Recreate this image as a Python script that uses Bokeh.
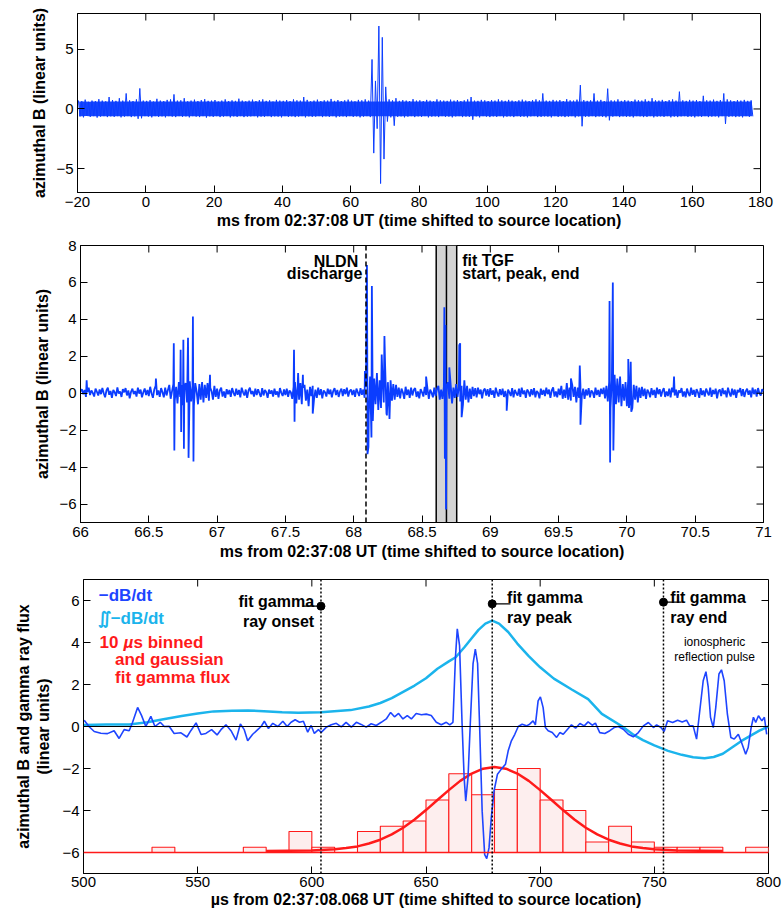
from bokeh.plotting import figure
from bokeh.models import Range1d, FixedTicker, Span, BoxAnnotation
from bokeh.layouts import column
from bokeh.embed import file_html
from bokeh.resources import INLINE
from bokeh.core.properties import value

# ---------------- DATA ----------------
# Panel 1: per-1-ms envelope (max, min) of azimuthal B, bins starting at -20 ms
p1_bin_start = -20
p1_hi = [
    0.72, 0.65, 0.78, 0.60, 0.70, 0.66, 0.82, 0.70, 0.64, 1.00,
    0.75, 0.68, 0.90, 0.70, 1.30, 0.72, 0.66, 0.80, 1.72, 0.70,
    0.68, 0.74, 0.62, 0.85, 0.70, 0.66, 0.76, 0.80, 1.22, 0.70,
    0.72, 0.90, 0.64, 0.70, 0.78, 0.66, 0.74, 0.82, 0.68, 0.70,
    0.75, 0.62, 0.70, 0.80, 0.66, 0.72, 0.68, 0.86, 0.70, 0.64,
    0.70, 0.78, 0.66, 0.74, 0.80, 0.68, 0.72, 0.62, 0.76, 0.70,
    0.68, 0.74, 0.66, 0.80, 0.72, 0.70, 1.00, 0.76, 0.64, 0.70,
    0.78, 0.66, 0.72, 0.70, 0.84, 0.68, 0.74, 0.66, 0.72, 0.78,
    0.70, 0.64, 0.76, 0.72, 0.80, 0.70, 4.15, 2.35, 6.95, 6.00,
    1.85, 0.80, 0.72, 0.90, 0.68, 0.74, 0.70, 0.66, 0.82, 0.70,
    0.72, 0.66, 0.76, 0.70, 0.64, 0.80, 0.72, 0.70, 0.68, 0.78,
    0.70, 0.74, 0.66, 0.72, 0.80, 1.00, 0.70, 0.68, 0.76, 0.72,
    0.66, 0.74, 0.70, 0.80, 0.72, 0.68, 0.76, 0.70, 0.64, 0.72,
    0.78, 0.70, 0.66, 0.74, 0.80, 0.72, 1.30, 0.70, 0.68, 0.76,
    0.70, 0.74, 0.66, 0.82, 0.72, 0.70, 0.78, 2.00, 0.74, 0.68,
    0.72, 1.30, 0.70, 0.76, 0.66, 1.70, 0.72, 0.70, 0.80, 0.68,
    0.74, 0.70, 0.66, 0.78, 0.72, 0.70, 0.80, 0.68, 0.90, 0.72,
    0.70, 0.76, 0.66, 0.74, 0.80, 0.70, 1.45, 0.72, 0.68, 0.76,
    0.70, 0.74, 0.66, 1.10, 0.72, 0.70, 0.78, 0.68, 0.74, 1.30,
    0.80, 0.72, 0.66, 0.74, 0.70, 0.76, 0.68, 0.72,
]
p1_lo = [
    -0.62, -0.70, -0.58, -0.66, -0.60, -0.72, -0.64, -0.60, -0.68, -0.62,
    -0.66, -0.60, -0.70, -0.64, -0.60, -0.68, -0.62, -0.82, -0.78, -0.60,
    -0.64, -0.70, -0.60, -0.66, -0.62, -0.70, -0.60, -0.64, -0.68, -0.60,
    -0.66, -0.62, -0.70, -0.60, -0.64, -0.68, -0.60, -0.72, -0.62, -0.66,
    -0.60, -0.68, -0.64, -0.60, -0.70, -0.62, -0.66, -0.60, -0.68, -0.64,
    -0.62, -0.60, -0.70, -0.64, -0.66, -0.60, -0.68, -0.62, -0.64, -0.70,
    -0.60, -0.66, -0.62, -0.68, -0.64, -0.60, -0.70, -0.62, -0.66, -0.64,
    -0.60, -0.68, -0.62, -0.66, -0.60, -0.70, -0.64, -0.62, -0.68, -0.60,
    -0.66, -0.62, -0.70, -0.64, -0.60, -0.68, -3.70, -1.65, -6.25, -4.20,
    -1.05, -0.70, -1.40, -0.66, -0.62, -0.70, -0.64, -0.60, -0.68, -0.62,
    -0.66, -0.60, -0.70, -0.64, -0.62, -0.68, -0.60, -0.66, -0.64, -0.70,
    -0.62, -0.60, -0.68, -0.64, -0.66, -0.90, -0.62, -0.70, -0.60, -0.64,
    -0.68, -0.62, -0.66, -0.60, -0.70, -0.64, -0.62, -0.68, -0.60, -0.66,
    -0.64, -0.70, -0.62, -0.60, -0.68, -0.66, -0.62, -0.64, -0.70, -0.60,
    -0.66, -0.62, -0.68, -0.64, -0.60, -0.70, -0.62, -1.45, -0.66, -0.64,
    -0.60, -0.68, -0.62, -0.66, -0.70, -0.95, -0.64, -0.60, -0.68, -0.62,
    -0.66, -0.64, -0.70, -0.60, -0.62, -0.68, -0.66, -0.60, -0.70, -0.64,
    -0.62, -0.66, -0.60, -0.70, -0.64, -0.68, -0.62, -0.60, -0.66, -0.64,
    -0.70, -0.62, -0.66, -0.60, -0.68, -0.64, -0.62, -0.70, -0.60, -1.25,
    -0.66, -0.62, -0.68, -0.64, -0.70, -0.60, -0.66, -0.62,
]
p1_band_cap = 0.62
p1_xticks = [-20, 0, 20, 40, 60, 80, 100, 120, 140, 160, 180]
p1_xlabels = ["\u221220", "0", "20", "40", "60", "80", "100", "120", "140", "160", "180"]
p1_yticks = [-5, 0, 5]
p1_ylabels = ["\u22125", "0", "5"]

# Panel 2: baseline samples every 0.01 ms from 66.00 ms, plus discrete pulses
p2_t0 = 66.0
p2_dt = 0.01
p2_noise = [
    0.10, 0.22, -0.05, 0.18, -0.20, 0.05, 0.30, -0.10, 0.15, 0.02,
    -0.18, 0.25, 0.08, -0.12, 0.20, -0.05, 0.28, 0.00, -0.22, 0.15,
    0.30, -0.08, 0.12, -0.25, 0.18, 0.05, -0.15, 0.32, -0.02, 0.10,
    -0.20, 0.22, 0.05, 0.28, -0.12, 0.15, -0.28, 0.08, 0.25, -0.05,
    0.12, -0.18, 0.30, -0.02, 0.20, -0.22, 0.05, 0.26, -0.10, 0.18,
    -0.15, 0.35, 0.00, -0.25, 0.20, 0.40, -0.10, 0.15, -0.20, 0.28,
    0.05, -0.22, 0.30, -0.12, 0.18, 0.45, -0.30, 0.10, 0.50, -0.40,
    0.35, -0.55, 0.60, -0.20, 0.45, -0.65, 0.30, 0.55, -0.50, 0.20,
    0.65, -0.45, 0.40, -0.70, 0.55, 0.10, -0.60, 0.50, -0.35, 0.60,
    -0.50, 0.45, -0.25, 0.55, -0.40, 0.30, 0.10, -0.35, 0.40, -0.20,
    0.25, -0.30, 0.15, 0.30, -0.18, 0.10, -0.25, 0.22, -0.05, 0.18,
    -0.20, 0.28, 0.02, -0.15, 0.25, -0.08, 0.18, -0.22, 0.30, 0.05,
    -0.12, 0.20, -0.25, 0.15, 0.30, -0.05, 0.12, -0.18, 0.25, -0.10,
    0.22, 0.00, -0.20, 0.28, -0.12, 0.18, 0.05, -0.25, 0.20, -0.02,
    0.15, -0.18, 0.25, -0.08, 0.10, -0.22, 0.28, 0.02, -0.15, 0.20,
    -0.10, 0.25, -0.20, 0.15, 0.05, -0.30, 0.35, 0.60, -0.55, 0.40,
    -0.35, 0.55, -0.60, 0.30, 0.45, -0.40, 0.20, -0.70, 0.35, -0.15,
    0.40, -0.30, 0.20, -0.25, 0.30, -0.10, 0.22, -0.28, 0.15, 0.05,
    -0.18, 0.25, -0.05, 0.20, -0.22, 0.12, 0.28, -0.10, 0.18, -0.20,
    0.10, 0.25, -0.15, 0.22, -0.05, 0.30, -0.18, 0.12, 0.20, -0.10,
    0.18, -0.20, 0.25, 0.05, -0.15, 0.28, -0.08, 0.20, -0.25, 0.35,
    0.60, -1.20, 0.90, -2.40, -1.50, 0.80, -0.60, 1.10, -0.90, 0.70,
    -0.80, 1.00, -0.50, 1.50, -1.10, 0.60, -0.90, 0.70, -0.40, 0.50,
    -0.35, 0.45, -0.20, 0.30, -0.28, 0.25, 0.05, -0.30, 0.35, -0.10,
    0.20, -0.25, 0.30, -0.12, 0.18, 0.28, -0.20, 0.10, -0.28, 0.22,
    0.05, -0.18, 0.35, -0.10, 0.25, -0.30, 0.20, 0.02, -0.22, 0.30,
    -0.15, 0.25, 0.40, -0.35, 0.20, -0.30, 0.35, -0.40, 0.25, 0.60,
    -0.30, 0.45, -0.55, 0.30, -0.25, 0.50, -0.20, 0.35, -0.45, 0.40,
    -0.60, 0.70, -0.35, 0.40, -0.50, 0.25, -0.30, 0.35, -0.15, 0.28,
    -0.22, 0.30, -0.05, 0.20, -0.28, 0.15, 0.25, -0.12, 0.22, -0.18,
    0.28, -0.08, 0.15, -0.25, 0.30, 0.02, -0.18, 0.22, -0.10, 0.25,
    -0.20, 0.12, -0.30, 0.20, 0.05, -0.15, 0.28, -0.22, 0.18, 0.00,
    -0.12, 0.25, -0.20, 0.30, -0.05, 0.15, -0.25, 0.20, 0.08, -0.18,
    0.22, -0.10, 0.28, -0.22, 0.12, 0.02, -0.28, 0.25, -0.08, 0.18,
    -0.15, 0.30, -0.05, 0.20, -0.25, 0.15, 0.32, -0.18, 0.10, -0.22,
    0.25, -0.10, 0.40, -0.30, 0.20, -0.25, 0.55, -0.35, 0.30, -0.40,
    0.45, -0.20, 0.35, -0.50, 0.30, -0.25, 0.40, -0.15, 0.25, -0.30,
    0.20, -0.12, 0.28, -0.22, 0.15, 0.05, -0.25, 0.30, -0.10, 0.18,
    -0.20, 0.25, -0.05, 0.30, -0.28, 0.40, -0.45, 0.60, -0.80, 0.70,
    -0.90, 1.00, -0.60, 0.80, -0.50, 0.90, -0.70, 0.50, -0.40, 0.60,
    -0.70, 0.80, -0.50, 0.60, -0.80, 0.45, -0.35, 0.40, -0.50, 0.30,
    -0.25, 0.35, -0.15, 0.25, -0.30, 0.20, 0.05, -0.22, 0.28, -0.10,
    0.18, -0.25, 0.30, -0.05, 0.22, -0.18, 0.12, 0.28, -0.20, 0.10,
    -0.15, 0.25, -0.22, 0.30, 0.05, -0.12, 0.20, -0.25, 0.15, 0.02,
    0.28, -0.18, 0.10, -0.22, 0.25, 0.00, -0.15, 0.30, -0.08, 0.18,
    -0.20, 0.22, 0.05, -0.25, 0.28, -0.10, 0.15, -0.18, 0.25, 0.05,
    -0.12, 0.30, -0.20, 0.18, -0.05, 0.25, -0.28, 0.12, 0.20, -0.15,
    0.28, -0.05, 0.15, -0.22, 0.30, 0.02, -0.18, 0.25, -0.10, 0.20,
    -0.25, 0.18, 0.05, 0.28, -0.15, 0.22, -0.20, 0.10, 0.25, -0.08,
    0.15, -0.22, 0.30, -0.05, 0.20, -0.18, 0.28, 0.00, -0.12, 0.22,
    0.10,
]
p2_pulses = [
    (66.045, 0.7), (66.552, 0.8),
    (66.683, 2.7), (66.687, -3.1), (66.733, 2.35), (66.737, -2.1),
    (66.753, 2.9), (66.757, -3.0), (66.787, 3.0), (66.791, -3.5),
    (66.823, 4.15), (66.827, -3.7), (66.948, 1.0),
    (67.563, 2.35), (67.567, -1.55), (67.593, 1.1), (67.628, 1.0), (67.700, -1.1),
    (68.082, 1.2), (68.097, 6.95), (68.101, -3.3), (68.108, -2.9),
    (68.133, 5.8),
    (68.205, 2.1), (68.225, 3.1), (68.243, -1.2), (68.262, -1.4), (68.53, 0.9),
    (68.6636, 4.65), (68.6674, -3.55), (68.6717, 3.7), (68.676, -6.3),
    (68.700, 1.4), (68.7726, 2.6), (68.7794, 2.7), (68.790, -1.3),
    (69.12, -0.95), (69.59, 0.8), (69.655, 1.5), (69.660, -1.7),
    (69.873, 5.0), (69.877, -3.75), (69.897, 6.0), (69.901, -3.1),
    (70.010, 1.85), (70.015, -0.8), (70.028, 1.7), (70.032, -1.0), (70.345, 0.9),
]
p2_xticks = [66, 66.5, 67, 67.5, 68, 68.5, 69, 69.5, 70, 70.5, 71]
p2_xlabels = ["66", "66.5", "67", "67.5", "68", "68.5", "69", "69.5", "70", "70.5", "71"]
p2_yticks = [-6, -4, -2, 0, 2, 4, 6, 8]
p2_ylabels = ["\u22126", "\u22124", "\u22122", "0", "2", "4", "6", "8"]
nldn_time = 68.09
tgf_start, tgf_peak, tgf_end = 68.604, 68.679, 68.754

# Panel 3: -dB/dt (us, value)
p3_dbdt = [
    (500.3, 0.3), (502.5, -0.01), (504.7, -0.24), (507.6, -0.32), (510.5, -0.34),
    (513.4, -0.2), (515.6, -0.57), (517.8, -0.15), (520.0, -0.2), (521.5, 0.2),
    (523.7, 0.91), (525.4, 0.53), (527.3, 0.0), (529.5, 0.48), (531.3, 0.0),
    (533.6, 0.2), (535.4, 0.0), (537.5, 0.01), (539.7, -0.33), (542.7, -0.3),
    (545.3, -0.5), (547.0, -0.2), (549.3, 0.17), (551.5, -0.38), (553.6, -0.33),
    (556.1, -0.15), (558.5, -0.4), (560.2, -0.15), (562.4, 0.08), (564.6, -0.2),
    (566.8, -0.65), (568.7, 0.12), (570.4, -0.15), (571.9, -0.68), (574.1, -0.37),
    (576.3, -0.15), (577.8, 0.0), (579.2, 0.25), (581.0, -0.1), (582.9, 0.15),
    (585.1, 0.0), (587.3, 0.25), (589.2, 0.0), (590.9, 0.2), (592.7, 0.32),
    (594.6, 0.2), (596.3, 0.25), (598.2, -0.27), (599.7, 0.05), (601.1, -0.33),
    (602.9, -0.15), (604.1, -0.28), (606.3, -0.04), (608.5, 0.08), (610.7, 0.15),
    (612.9, -0.02), (615.0, 0.2), (617.3, -0.03), (619.5, 0.2), (621.6, 0.1),
    (623.8, -0.03), (626.0, 0.13), (628.2, 0.05), (630.4, 0.2), (632.6, 0.36),
    (634.5, 0.67), (636.2, 0.46), (638.0, 0.62), (639.9, 0.36), (641.8, 0.52),
    (643.6, 0.36), (645.7, 0.62), (648.0, 0.56), (650.1, 0.59), (652.3, 0.52),
    (654.5, 0.2), (656.7, 0.08), (658.9, 0.2), (660.4, 0.08), (661.8, 0.2),
    (662.9, 3.3), (663.7, 4.65), (664.7, 3.85), (665.8, 0.14), (666.7, -2.43),
    (667.4, -3.55), (668.4, -2.43), (669.4, 0.14), (670.6, 2.98), (671.6, 3.69),
    (672.6, 3.0), (673.5, -0.05), (674.6, -4.03), (675.7, -6.1), (676.6, -6.29),
    (677.6, -5.78), (678.6, -4.34), (679.8, -3.07), (681.3, -2.27), (683.0, -2.03),
    (684.8, -1.8), (686.0, -1.16), (687.4, -0.68), (688.9, -0.37), (690.4, 0.0),
    (692.1, 0.11), (694.0, 0.03), (695.4, 0.11), (696.9, 0.27), (697.9, 0.08),
    (699.1, 1.22), (700.1, 1.41), (701.3, 0.9), (702.3, -0.05), (703.5, -0.2),
    (705.3, -0.29), (707.2, -0.52), (708.6, -0.29), (710.1, -0.37), (712.0, -0.13),
    (713.7, 0.08), (715.5, -0.08), (717.4, 0.14), (719.3, 0.03), (721.0, 0.22),
    (722.8, 0.06), (724.2, 0.16), (726.1, -0.29), (728.3, -0.33), (730.5, -0.2),
    (732.4, -0.05), (734.2, 0.0), (736.4, -0.13), (738.6, -0.37), (740.8, -0.49),
    (743.0, -0.29), (745.2, 0.03), (747.4, 0.19), (749.6, -0.05), (751.0, 0.08),
    (752.9, -0.05), (754.3, -0.24), (755.8, 0.27), (758.0, 0.19), (760.2, 0.3),
    (762.2, 0.22), (764.1, 0.3), (765.5, 0.03), (767.0, 0.03), (768.5, -0.6),
    (769.9, 0.75), (771.4, 2.18), (772.6, 2.61), (773.6, 1.87), (774.6, 0.44),
    (775.8, -0.05), (776.9, 0.9), (778.3, 2.5), (779.4, 2.7), (780.6, 2.18),
    (782.0, 0.59), (783.5, -0.52), (785.0, -0.6), (786.8, -0.37), (788.2, -0.76),
    (790.0, -1.32), (791.1, -1.0), (792.4, -0.05), (793.4, 0.44), (794.4, 0.19),
    (795.6, 0.51), (797.1, 0.27), (798.2, 0.44), (799.2, -0.37),
]
# integrated -dB/dt (us, value)
p3_integral = [
    (500, 0.07), (510, 0.09), (520, 0.1), (528, 0.2), (535, 0.35), (543, 0.5),
    (550, 0.62), (557, 0.72), (565, 0.75), (572, 0.76), (579, 0.73), (587, 0.68),
    (594, 0.66), (604, 0.68), (617, 0.78), (625, 0.95), (630, 1.12), (635, 1.35),
    (640, 1.65), (645, 1.95), (650, 2.3), (655, 2.75), (660, 3.1), (663, 3.3),
    (667, 3.8), (670, 4.2), (673, 4.6), (676, 4.9), (679, 5.04), (682, 4.9),
    (686, 4.5), (690, 3.95), (695, 3.35), (700, 2.82), (706, 2.28), (714, 1.75),
    (721, 1.3), (727, 0.6), (736, 0.0), (741, -0.4), (745, -0.65), (750, -0.9),
    (756, -1.16), (762, -1.35), (767, -1.46), (772, -1.51), (776, -1.45),
    (780, -1.3), (784, -1.0), (788, -0.7), (792, -0.45), (796, -0.2), (800, 0.0),
]
# 10 us binned gamma-ray counts
p3_bin_left = [500, 510, 520, 530, 540, 550, 560, 570, 580, 590, 600, 610, 620, 630, 640,
               650, 660, 670, 680, 690, 700, 710, 720, 730, 740, 750, 760, 770, 780, 790]
p3_counts = [0, 0, 0, 1, 0, 0, 0, 1, 0, 4, 1, 0, 4, 5, 6,
             10, 15, 11, 12, 16, 10, 8, 2, 5, 2, 1, 1, 1, 0, 1]
hist_base = -6.0
count_scale = 0.25
bin_width = 10
# gaussian fit (us, value)
p3_fit = [
    (580, -5.93), (590, -5.92), (600, -5.91), (610, -5.85), (615, -5.79), (620, -5.71),
    (625, -5.57), (630, -5.39), (635, -5.14), (640, -4.82), (645, -4.43), (650, -3.98),
    (655, -3.50), (660, -3.03), (665, -2.59), (670, -2.24), (675, -2.01), (680, -1.93),
    (685, -2.01), (690, -2.24), (695, -2.59), (700, -3.03), (705, -3.50), (710, -3.98),
    (715, -4.43), (720, -4.82), (725, -5.14), (730, -5.39), (735, -5.57), (740, -5.71),
    (745, -5.79), (750, -5.85), (760, -5.91), (770, -5.92), (780, -5.93),
]
fit_times = [604, 679, 754]
fit_marker_y = [5.73, 5.84, 5.92]
fit_tick_len = [-8, 8, 8]
p3_xticks = [500, 550, 600, 650, 700, 750, 800]
p3_xlabels = ["500", "550", "600", "650", "700", "750", "800"]
p3_yticks = [-6, -4, -2, 0, 2, 4, 6]
p3_ylabels = ["\u22126", "\u22124", "\u22122", "0", "2", "4", "6"]

# ---------------- STYLE ----------------
FONT = "Liberation Sans"
BLUE = "#0b3dff"
CYAN = "#1bb4ec"
RED = "#ff1a1a"
FIG_W = 782
TICK_PX = 7


def make_fig(height, xr, yr, left, right, top, bottom):
    p = figure(width=FIG_W, height=height, x_range=Range1d(*xr), y_range=Range1d(*yr),
               output_backend="svg", toolbar_location=None, frame_align=False,
               min_border_left=left, min_border_right=right,
               min_border_top=top, min_border_bottom=bottom)
    p.xgrid.visible = False
    p.ygrid.visible = False
    p.outline_line_color = "black"
    p.outline_line_width = 1
    p.background_fill_color = "white"
    p.border_fill_color = "white"
    return p


def style_axes(p, xr, yr, fw, fh, xt, xl, yt, yl, xlabel, ylabel, ylabel_standoff=5,
               xlabel_standoff=2, xtick_standoff=4):
    for ax, ticks, labels in ((p.xaxis[0], xt, xl), (p.yaxis[0], yt, yl)):
        ax.ticker = FixedTicker(ticks=ticks)
        ax.major_label_overrides = {t: l for t, l in zip(ticks, labels)}
        ax.major_tick_in = TICK_PX
        ax.major_tick_out = 0
        ax.minor_tick_line_color = None
        ax.minor_tick_out = 0
        ax.axis_line_color = "black"
        ax.major_tick_line_color = "black"
        ax.major_label_text_font = FONT
        ax.major_label_text_font_size = "15px"
        ax.major_label_text_color = "black"
        ax.axis_label_text_font = FONT
        ax.axis_label_text_font_style = "bold"
        ax.axis_label_text_font_size = "16px"
        ax.axis_label_text_color = "black"
    p.xaxis[0].axis_label = xlabel
    p.xaxis[0].major_label_standoff = xtick_standoff
    p.xaxis[0].axis_label_standoff = xlabel_standoff
    p.yaxis[0].axis_label = ylabel
    p.yaxis[0].axis_label_standoff = ylabel_standoff
    p.yaxis[0].major_label_standoff = 4
    # inward ticks on the top and right edges of the box
    dx = TICK_PX * (xr[1] - xr[0]) / fw
    dy = TICK_PX * (yr[1] - yr[0]) / fh
    p.segment(x0=xt, y0=[yr[1]] * len(xt), x1=xt, y1=[yr[1] - dy] * len(xt),
              line_color="black", line_width=1)
    p.segment(x0=[xr[1]] * len(yt), y0=yt, x1=[xr[1] - dx] * len(yt), y1=yt,
              line_color="black", line_width=1)


def add_text(p, x, y, txt, color="black", size="16px", style="bold", align="left",
             baseline="middle", x_offset=0):
    p.text(x=[x], y=[y], text=[txt], text_color=color, text_font=value(FONT),
           text_font_size=size, text_font_style=style, text_align=align,
           text_baseline=baseline, x_offset=x_offset)


XLAB_MS = "ms from 02:37:08 UT (time shifted to source location)"

# ---------------- PANEL 1 ----------------
P1 = dict(height=236, xr=(-20, 180), yr=(-7, 8), left=77, right=22, top=13, bottom=44)
p1 = make_fig(**P1)
xc = [p1_bin_start + i + 0.5 for i in range(len(p1_hi))]
p1.varea(x=xc, y1=[max(v, -p1_band_cap) for v in p1_lo],
         y2=[min(v, p1_band_cap) for v in p1_hi], fill_color=BLUE, fill_alpha=0.95)
x1, y1 = [], []
for i, (hi, lo) in enumerate(zip(p1_hi, p1_lo)):
    x1 += [p1_bin_start + i + 0.25, p1_bin_start + i + 0.75]
    y1 += [hi, lo]
p1.line(x1, y1, line_color=BLUE, line_width=1.0)
style_axes(p1, P1["xr"], P1["yr"], FIG_W - 77 - 22, 236 - 13 - 44,
           p1_xticks, p1_xlabels, p1_yticks, p1_ylabels, XLAB_MS,
           "azimuthal B (linear units)")

# ---------------- PANEL 2 ----------------
P2 = dict(height=334, xr=(66, 71), yr=(-7, 8), left=80, right=19, top=9, bottom=48)
p2 = make_fig(**P2)
pts = [(p2_t0 + i * p2_dt, v) for i, v in enumerate(p2_noise)] + list(p2_pulses)
pts.sort(key=lambda a: a[0])
p2.add_layout(BoxAnnotation(left=tgf_start, right=tgf_end, fill_color="#d4d4d4",
                            fill_alpha=1.0, line_color=None, level="underlay"))
for t in (tgf_start, tgf_peak, tgf_end):
    p2.add_layout(Span(location=t, dimension="height", line_color="black",
                       line_width=1.5, level="underlay"))
p2.add_layout(Span(location=nldn_time, dimension="height", line_color="black",
                   line_width=1.5, line_dash="5 3"))
p2.line([a[0] for a in pts], [a[1] for a in pts], line_color=BLUE, line_width=1.8)
add_text(p2, 68.033, 7.12, "NLDN", align="right")
add_text(p2, 68.064, 6.47, "discharge", align="right")
add_text(p2, 68.794, 7.19, "fit TGF")
add_text(p2, 68.794, 6.50, "start, peak, end")
style_axes(p2, P2["xr"], P2["yr"], FIG_W - 80 - 19, 334 - 9 - 48,
           p2_xticks, p2_xlabels, p2_yticks, p2_ylabels, XLAB_MS,
           "azimuthal B (linear units)", xlabel_standoff=3)

# ---------------- PANEL 3 ----------------
P3 = dict(height=344, xr=(500, 800), yr=(-7, 7), left=83, right=14, top=9, bottom=41)
p3 = make_fig(**P3)
p3.add_layout(Span(location=0, dimension="width", line_color="black", line_width=1.2))
p3.add_layout(Span(location=hist_base, dimension="width", line_color=RED, line_width=1.5))
bl = [l for l, c in zip(p3_bin_left, p3_counts) if c > 0]
bc = [c for c in p3_counts if c > 0]
p3.quad(left=bl, right=[l + bin_width for l in bl], bottom=hist_base,
        top=[hist_base + c * count_scale for c in bc],
        fill_color="#fdeeee", line_color=RED, line_width=1.1)
p3.line([a[0] for a in p3_fit], [a[1] for a in p3_fit], line_color=RED, line_width=2.5)
for t in fit_times:
    p3.add_layout(Span(location=t, dimension="height", line_color="black",
                       line_width=1.5, line_dash="2 2"))
p3.line([a[0] for a in p3_integral], [a[1] for a in p3_integral], line_color=CYAN,
        line_width=2.5)
p3.line([a[0] for a in p3_dbdt], [a[1] for a in p3_dbdt], line_color="#1e45ff",
        line_width=1.6)
p3.segment(x0=fit_times, y0=fit_marker_y,
           x1=[t + d for t, d in zip(fit_times, fit_tick_len)], y1=fit_marker_y,
           line_color="black", line_width=1.2)
p3.scatter(fit_times, fit_marker_y, size=8, color="black")
add_text(p3, 601, 5.97, "fit gamma", align="right", baseline="alphabetic")
add_text(p3, 601, 5.01, "ray onset", align="right", baseline="alphabetic")
add_text(p3, 685.5, 6.13, "fit gamma", baseline="alphabetic")
add_text(p3, 685.5, 5.20, "ray peak", baseline="alphabetic")
add_text(p3, 757, 6.13, "fit gamma", baseline="alphabetic")
add_text(p3, 757, 5.20, "ray end", baseline="alphabetic")
add_text(p3, 776.4, 4.04, "ionospheric", size="12px", style="normal", align="center")
add_text(p3, 776.4, 3.33, "reflection pulse", size="12px", style="normal", align="center")
add_text(p3, 506.7, 6.24, "\u2212dB/dt", color="#1e45ff", size="17px")
add_text(p3, 506.2, 5.14, "\u222c\u2212dB/dt", color=CYAN, size="17px")
add_text(p3, 507.0, 4.0, "10 ", color=RED, size="17px")
add_text(p3, 507.0, 4.0, "\u00b5", color=RED, size="17px", style="bold italic", x_offset=24)
add_text(p3, 507.0, 4.0, "s binned", color=RED, size="17px", x_offset=34)
add_text(p3, 513.8, 3.18, "and gaussian", color=RED, size="17px")
add_text(p3, 513.8, 2.33, "fit gamma flux", color=RED, size="17px")
style_axes(p3, P3["xr"], P3["yr"], FIG_W - 83 - 14, 344 - 9 - 41,
           p3_xticks, p3_xlabels, p3_yticks, p3_ylabels,
           "\u00b5s from 02:37:08.068 UT (time shifted to source location)",
           "azimuthal B and gamma ray flux\n(linear units)", ylabel_standoff=7,
           xlabel_standoff=1, xtick_standoff=3)

layout = column(p1, p2, p3)
open("out.html", "w").write(file_html(layout, INLINE))
